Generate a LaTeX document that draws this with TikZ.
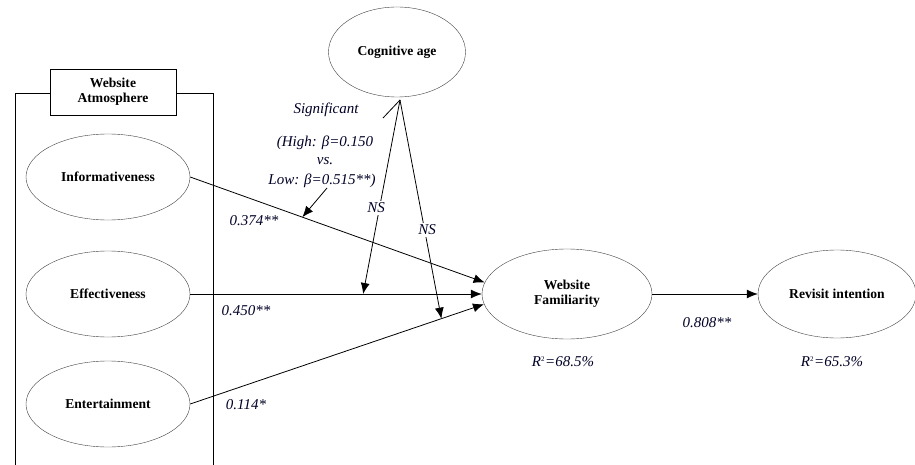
\documentclass[tikz,border=0pt]{standalone}
\usepackage{fontspec}
\setmainfont{Liberation Serif}
\usetikzlibrary{arrows.meta,shapes.geometric}
\begin{document}
\begin{tikzpicture}[x=1pt,y=-1pt,
  lat/.style={draw=black!75,ellipse,inner sep=0pt,font=\bfseries\fontsize{13.6}{15}\selectfont,align=center},
  lab/.style={font=\itshape\fontsize{15}{16}\selectfont,text=black!85!blue,inner sep=1pt},
  conn/.style={draw,line width=0.8pt,-{Latex[length=11pt,width=9pt]}},
  plain/.style={draw,line width=0.8pt}]
\useasboundingbox (0,0) rectangle (915,465);
% outer group box
\draw[line width=0.8pt] (50,93) -- (15,93) -- (15,465);
\draw[line width=0.8pt] (176,93) -- (213,93) -- (213,465);
\node[draw,line width=0.8pt,minimum width=126pt,minimum height=46pt,inner sep=0pt,align=center,font=\bfseries\fontsize{13.6}{15}\selectfont] (wa) at (113,92) {Website\\Atmosphere};
% latent variables
\node[lat,minimum width=164pt,minimum height=86pt] (inf) at (108,177) {Informativeness};
\node[lat,minimum width=164pt,minimum height=86pt] (eff) at (108,294) {Effectiveness};
\node[lat,minimum width=164pt,minimum height=86pt] (ent) at (108,404) {Entertainment};
\node[lat,minimum width=137pt,minimum height=90pt] (cog) at (397,52) {Cognitive age};
\node[lat,minimum width=170pt,minimum height=90pt] (wf) at (567,294) {Website\\Familiarity};
\node[lat,minimum width=158pt,minimum height=88pt] (ri) at (837,294) {Revisit intention};
% main paths
\draw[conn] (inf.east) -- (wf.172) coordinate[pos=0.381] (s1);
\draw[conn] (eff.east) -- (wf.west) coordinate[pos=0.593] (m1);
\draw[conn] (ent.east) -- (wf.187) coordinate[pos=0.855] (m2);
\draw[conn] (wf.east) -- (ri.west);
% moderating paths
\coordinate (c1) at (400,100);
\draw[conn] (c1) -- (m1);
\draw[conn] (c1) -- (m2);
\draw[plain] (383,118) -- (c1);
\coordinate (sg) at (327,188);
\draw[conn] (sg) -- (s1);
% labels
\node[lab,fill=white,inner sep=2pt] (ns1) at (376,208) {NS};
\node[lab,fill=white,inner sep=2pt] (ns2) at (427,230) {NS};
\node[lab] (t1) at (326,110) {Significant};
\node[lab] (t2) at (325,143) {(High: β=0.150};
\node[lab] (t3) at (325,161) {vs.};
\node[lab] (t4) at (322,181) {Low: β=0.515**)};
\node[lab] (l1) at (254,221) {0.374**};
\node[lab] (l2) at (246,311) {0.450**};
\node[lab] (l3) at (246,405) {0.114*};
\node[lab] (l4) at (707,323) {0.808**};
\node[lab] (r1) at (563,362) {R\textsuperscript{\upshape\scriptsize 2}=68.5\%};
\node[lab] (r2) at (832,362) {R\textsuperscript{\upshape\scriptsize 2}=65.3\%};
\end{tikzpicture}
\end{document}
